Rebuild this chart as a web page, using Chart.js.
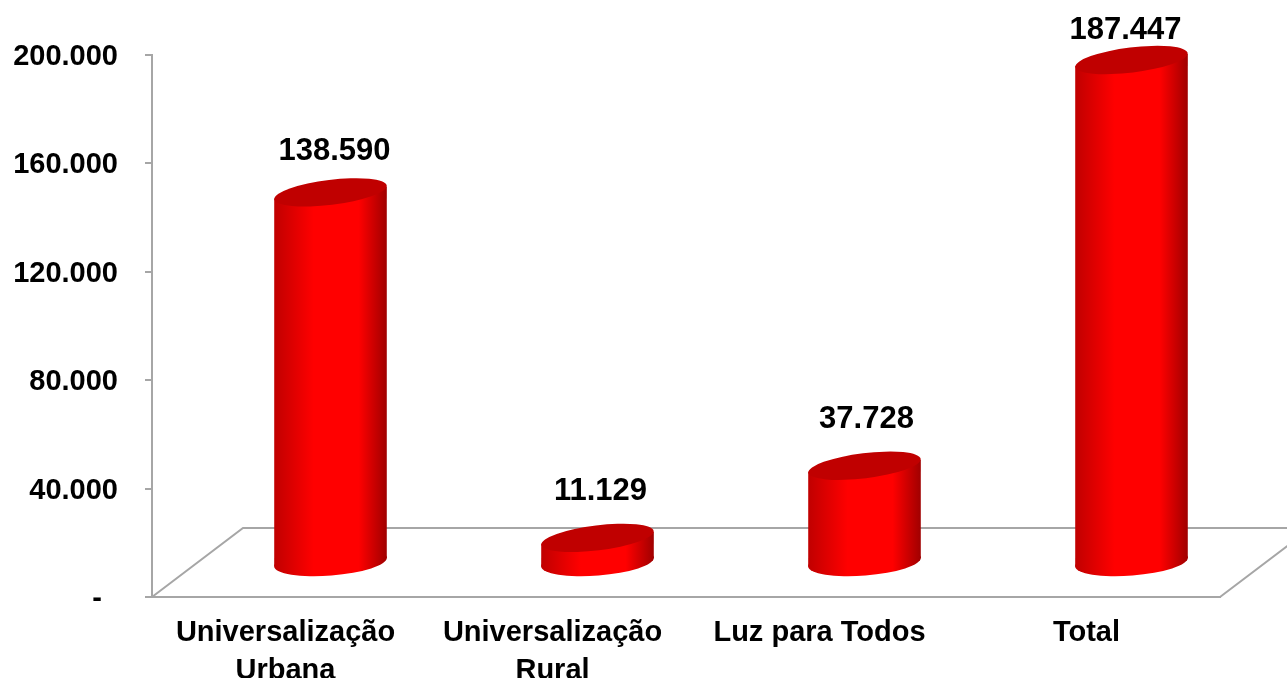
<!DOCTYPE html>
<html lang="pt-br">
<head>
    <meta charset="UTF-8">
    <title>Universalização</title>
    <script src="https://cdn.jsdelivr.net/npm/chart.js"></script>
    <style>
        html, body { margin: 0; padding: 0; background: #ffffff; overflow: hidden; }
        canvas { display: block; }
    </style>
</head>
<body>
    <canvas id="chart" width="1287" height="678"></canvas>

    <script>
        const categories = [['Universalização', 'Urbana'], ['Universalização', 'Rural'], 'Luz para Todos', 'Total'];
        const values = [138590, 11129, 37728, 187447];
        const valueLabels = ['138.590', '11.129', '37.728', '187.447'];
        const tickValues = [0, 40000, 80000, 120000, 160000, 200000];
        const tickLabels = ['-\u00a0\u00a0', '40.000', '80.000', '120.000', '160.000', '200.000'];

        const FONT = '"Liberation Sans", Arial, sans-serif';
        const GREY = '#a6a6a6';

        // piso em perspectiva e cilindros desenhados a partir das barras do proprio Chart.js
        const floorPlugin = {
            id: 'floor3d',
            beforeDatasetsDraw(chart) {
                const { ctx, chartArea: a } = chart;
                ctx.save();
                ctx.strokeStyle = GREY;
                ctx.lineWidth = 2;
                ctx.beginPath();
                ctx.moveTo(a.left, a.bottom);
                ctx.lineTo(a.left + 91, a.bottom - 69);
                ctx.lineTo(a.right + 91, a.bottom - 69);
                ctx.moveTo(a.right, a.bottom);
                ctx.lineTo(a.right + 91, a.bottom - 69);
                ctx.stroke();
                ctx.restore();
            }
        };

        const cylinderPlugin = {
            id: 'cylinders',
            afterDatasetsDraw(chart, args, opts) {
                const { ctx } = chart;
                const bars = chart.getDatasetMeta(0).data;
                bars.forEach((bar, i) => {
                    const cx = bar.x + opts.depthX;
                    const baseY = bar.base - opts.baseDepthY;
                    const topY = bar.y - opts.topDepthY;
                    const rx = bar.width / 2 + 0.5;
                    const half = rx * 0.995;

                    const grad = ctx.createLinearGradient(cx - half, 0, cx + half, 0);
                    grad.addColorStop(0, '#c00000');
                    grad.addColorStop(0.35, '#ff0000');
                    grad.addColorStop(0.75, '#ff0000');
                    grad.addColorStop(1, '#a00000');

                    ctx.save();
                    ctx.fillStyle = grad;
                    ctx.beginPath();
                    ctx.ellipse(cx, baseY, rx, 13.5, -4.5 * Math.PI / 180, 0, Math.PI * 2);
                    ctx.fill();
                    ctx.beginPath();
                    ctx.moveTo(cx - half, topY + 6);
                    ctx.lineTo(cx - half, baseY + 4);
                    ctx.lineTo(cx + half, baseY - 4);
                    ctx.lineTo(cx + half, topY - 6);
                    ctx.closePath();
                    ctx.fill();

                    ctx.fillStyle = '#c00000';
                    ctx.beginPath();
                    ctx.ellipse(cx, topY, rx, 12.5, -7 * Math.PI / 180, 0, Math.PI * 2);
                    ctx.fill();

                    ctx.fillStyle = '#000000';
                    ctx.font = 'bold 31px ' + FONT;
                    ctx.textAlign = 'center';
                    ctx.textBaseline = 'middle';
                    ctx.fillText(valueLabels[i], cx + opts.labelDx[i], topY - opts.labelDy[i]);
                    ctx.restore();
                });
            }
        };

        new Chart(document.getElementById('chart').getContext('2d'), {
            type: 'bar',
            data: {
                labels: categories,
                datasets: [{
                    data: values,
                    backgroundColor: 'rgba(0, 0, 0, 0)',
                    categoryPercentage: 1,
                    barPercentage: 0.42
                }]
            },
            options: {
                responsive: false,
                animation: false,
                layout: { padding: { top: 55, right: 67, left: 0, bottom: 0 } },
                plugins: {
                    legend: { display: false },
                    tooltip: { enabled: false },
                    cylinders: {
                        depthX: 45,
                        baseDepthY: 34,
                        topDepthY: 29,
                        labelDx: [4, 3, 2, -6],
                        labelDy: [41, 46, 46, 30]
                    }
                },
                scales: {
                    x: {
                        afterFit(scale) { scale.height = 81; },
                        grid: { display: false },
                        border: { color: GREY, width: 2 },
                        ticks: {
                            color: '#000000',
                            font: { family: FONT, size: 29, weight: 'bold', lineHeight: 1.3 },
                            maxRotation: 0,
                            autoSkip: false,
                            padding: 9
                        }
                    },
                    y: {
                        min: 0,
                        max: 200000,
                        afterFit(scale) { scale.width = 152; },
                        afterBuildTicks(scale) { scale.ticks = tickValues.map(v => ({ value: v })); },
                        grid: { drawOnChartArea: false, drawTicks: true, tickLength: 7, color: GREY, lineWidth: 2 },
                        border: { color: GREY, width: 2 },
                        ticks: {
                            color: '#000000',
                            font: { family: FONT, size: 29, weight: 'bold' },
                            padding: 27,
                            labelOffset: 2,
                            callback(value) { return tickLabels[tickValues.indexOf(value)]; }
                        }
                    }
                }
            },
            plugins: [floorPlugin, cylinderPlugin]
        });
    </script>
</body>
</html>
